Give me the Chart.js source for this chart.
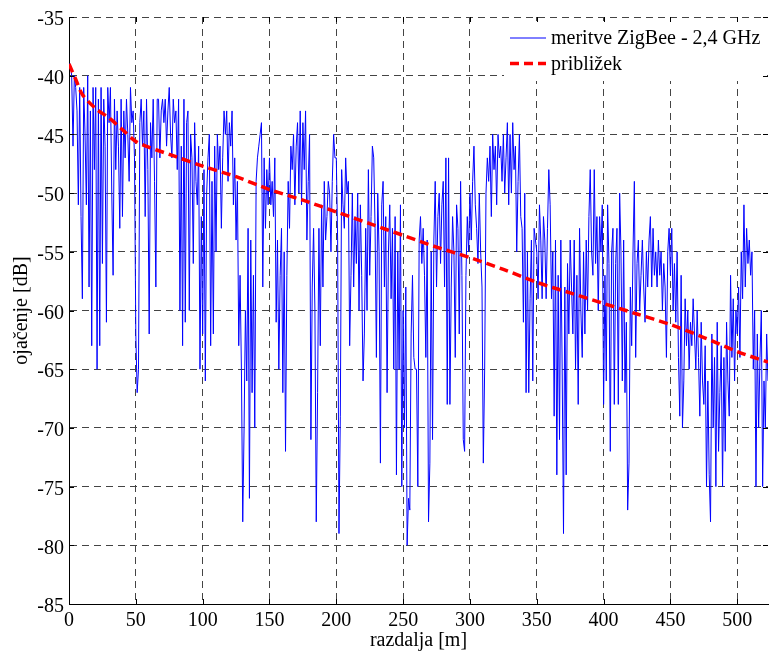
<!DOCTYPE html>
<html>
<head>
<meta charset="utf-8">
<script src="https://cdn.jsdelivr.net/npm/chart.js@4.4.0/dist/chart.umd.min.js"></script>
<style>
  html, body { margin: 0; padding: 0; background: #fff; }
  canvas { display: block; }
</style>
</head>
<body>
<canvas id="chart" width="770" height="657"></canvas>
<script>
// measured gain [dB], one sample per metre, starting at 0 m
const gain = [
  /*   0 */ -39, -39, -40, -46, -40, -41, -43, -51, -41, -52,
  /*  10 */ -59, -41, -45, -51, -40, -58, -43, -63, -41, -48,
  /*  20 */ -41, -65, -42, -63, -41, -56, -42, -46, -61, -41,
  /*  30 */ -44, -41, -50, -57, -42, -48, -43, -46, -53, -42,
  /*  40 */ -52, -43, -47, -42, -45, -49, -41, -44, -43, -47,
  /*  50 */ -62, -67, -65, -44, -42, -46, -43, -52, -42, -48,
  /*  60 */ -62, -44, -47, -42, -49, -58, -42, -42, -47, -43,
  /*  70 */ -42, -44, -42, -46, -43, -41, -45, -47, -42, -44,
  /*  80 */ -43, -48, -42, -60, -46, -63, -42, -61, -44, -43,
  /*  90 */ -60, -45, -47, -56, -44, -49, -51, -46, -65, -52,
  /* 100 */ -62, -48, -66, -50, -47, -45, -63, -49, -62, -46,
  /* 110 */ -55, -45, -48, -46, -53, -47, -43, -45, -43, -49,
  /* 120 */ -44, -46, -43, -51, -47, -54, -49, -63, -57, -65,
  /* 130 */ -78, -70, -60, -66, -53, -76, -54, -67, -57, -70,
  /* 140 */ -49, -47, -46, -45, -44, -58, -47, -53, -48, -51,
  /* 150 */ -47, -51, -49, -52, -47, -61, -54, -65, -57, -53,
  /* 160 */ -67, -55, -72, -57, -49, -53, -46, -48, -45, -51,
  /* 170 */ -46, -44, -50, -43, -51, -44, -48, -43, -54, -49,
  /* 180 */ -45, -71, -58, -53, -60, -78, -67, -53, -63, -51,
  /* 190 */ -58, -49, -54, -52, -49, -50, -55, -49, -45, -47,
  /* 200 */ -47, -54, -79, -69, -48, -51, -53, -47, -50, -49,
  /* 210 */ -63, -57, -50, -58, -52, -56, -50, -60, -51, -57,
  /* 220 */ -66, -62, -53, -60, -48, -57, -52, -46, -47, -53,
  /* 230 */ -64, -50, -55, -73, -51, -49, -58, -52, -67, -55,
  /* 240 */ -51, -59, -53, -65, -52, -74, -55, -65, -51, -75,
  /* 250 */ -60, -70, -58, -80, -76, -77, -62, -57, -64, -65,
  /* 260 */ -65, -75, -54, -52, -56, -53, -57, -64, -54, -78,
  /* 270 */ -73, -55, -71, -54, -49, -58, -52, -50, -56, -51,
  /* 280 */ -49, -58, -47, -68, -47, -68, -58, -52, -55, -64,
  /* 290 */ -51, -53, -62, -49, -57, -71, -72, -57, -52, -55,
  /* 300 */ -50, -54, -49, -46, -51, -53, -56, -50, -55, -58,
  /* 310 */ -73, -65, -50, -47, -49, -46, -52, -45, -48, -46,
  /* 320 */ -51, -45, -47, -46, -49, -45, -50, -47, -44, -51,
  /* 330 */ -45, -50, -44, -48, -46, -55, -49, -45, -52, -53,
  /* 340 */ -61, -50, -67, -55, -67, -59, -54, -66, -53, -54,
  /* 350 */ -55, -59, -51, -54, -59, -52, -54, -59, -53, -48,
  /* 360 */ -51, -59, -55, -69, -54, -74, -57, -71, -54, -65,
  /* 370 */ -79, -58, -74, -56, -62, -54, -58, -62, -54, -65,
  /* 380 */ -57, -68, -53, -60, -64, -55, -62, -54, -60, -52,
  /* 390 */ -48, -55, -57, -48, -56, -52, -60, -52, -55, -51,
  /* 400 */ -68, -57, -66, -51, -56, -72, -55, -53, -68, -56,
  /* 410 */ -53, -68, -50, -55, -66, -54, -67, -61, -77, -73,
  /* 420 */ -58, -63, -55, -49, -64, -56, -54, -60, -57, -54,
  /* 430 */ -58, -61, -55, -58, -54, -52, -58, -53, -57, -55,
  /* 440 */ -58, -54, -57, -55, -60, -56, -58, -64, -55, -53,
  /* 450 */ -57, -53, -60, -56, -61, -55, -64, -69, -57, -70,
  /* 460 */ -66, -59, -63, -60, -65, -61, -63, -59, -62, -65,
  /* 470 */ -60, -64, -69, -61, -66, -68, -63, -75, -66, -74,
  /* 480 */ -78, -62, -70, -64, -75, -61, -72, -67, -63, -75,
  /* 490 */ -64, -72, -61, -66, -69, -57, -64, -59, -66, -60,
  /* 500 */ -62, -58, -64, -55, -59, -51, -58, -53, -56, -54,
  /* 510 */ -57, -55, -65, -60, -75, -62, -70, -64, -60, -75,
  /* 520 */ -66, -70, -62, -66,
];
const distance = gain.map((_, i) => i); // metres

// fitted curve (približek)
const fitDist = [0, 5, 10, 20, 30, 40, 50, 60, 70, 80, 100, 125, 150, 175, 200,
  225, 250, 275, 300, 325, 350, 375, 400, 425, 450, 475, 500, 523];
const fitGain = [-39.0, -40.3, -41.6, -42.8, -43.6, -44.6, -45.6, -46.1, -46.5, -46.9,
  -47.7, -48.6, -49.7, -50.6, -51.6, -52.6, -53.6, -54.6, -55.5, -56.5,
  -57.6, -58.5, -59.4, -60.3, -61.2, -62.3, -63.5, -64.4];

const FONT = "'Liberation Serif', 'Times New Roman', serif";
Chart.defaults.font.family = FONT;
Chart.defaults.font.size = 20;
Chart.defaults.color = "#000";

// matlab look: inward ticks and legend box inside the axes
const matlabFrame = {
  id: "matlabFrame",
  afterDraw(chart) {
    const {
      ctx,
      chartArea: { left, right, top, bottom },
      scales: { x, y },
    } = chart;

    ctx.save();

    ctx.fillStyle = "#fff";
    ctx.fillRect(right - 264, top + 4, 263, 60);

    chart.data.datasets.forEach((ds, i) => {
      const ly = top + 21 + i * 25.5;
      ctx.beginPath();
      ctx.strokeStyle = ds.borderColor;
      ctx.lineWidth = ds.borderWidth;
      ctx.setLineDash(ds.borderDash || []);
      ctx.moveTo(right - 258, ly);
      ctx.lineTo(right - 222, ly);
      ctx.stroke();
      ctx.setLineDash([]);
      ctx.fillStyle = "#000";
      ctx.font = "20px " + FONT;
      ctx.textAlign = "left";
      ctx.textBaseline = "middle";
      ctx.fillText(ds.label, right - 217, ly + 1);
    });

    ctx.strokeStyle = "#000";
    ctx.lineWidth = 1;
    ctx.beginPath();
    x.ticks.forEach((t) => {
      const px = Math.round(x.getPixelForValue(t.value)) + 0.5;
      ctx.moveTo(px, bottom);
      ctx.lineTo(px, bottom - 5);
      ctx.moveTo(px, top);
      ctx.lineTo(px, top + 5);
    });
    y.ticks.forEach((t) => {
      const py = Math.round(y.getPixelForValue(t.value)) + 0.5;
      ctx.moveTo(left, py);
      ctx.lineTo(left + 5, py);
      ctx.moveTo(right, py);
      ctx.lineTo(right - 5, py);
    });
    ctx.stroke();

    ctx.restore();
  },
};

new Chart(document.getElementById("chart"), {
  type: "line",
  data: {
    datasets: [
      {
        label: "meritve ZigBee - 2,4 GHz",
        data: distance.map((d, i) => ({ x: d, y: gain[i] })),
        borderColor: "#0000ff",
        borderWidth: 1,
        pointRadius: 0,
        tension: 0,
        order: 1,
      },
      {
        label: "približek",
        data: fitDist.map((d, i) => ({ x: d, y: fitGain[i] })),
        borderColor: "#ff0000",
        borderWidth: 3.5,
        borderDash: [9, 5],
        pointRadius: 0,
        tension: 0.3,
        order: 0,
      },
    ],
  },
  options: {
    responsive: false,
    animation: false,
    devicePixelRatio: 1,
    layout: { padding: { left: 0, right: 2, top: 16, bottom: 0 } },
    plugins: {
      legend: { display: false },
      tooltip: { enabled: false },
    },
    scales: {
      x: {
        type: "linear",
        min: 0,
        max: 523,
        afterFit(scale) {
          scale.height = 53;
        },
        ticks: { stepSize: 50, includeBounds: false, padding: 5, maxRotation: 0 },
        grid: { color: "#444", lineWidth: 1, drawTicks: false },
        border: { display: true, color: "#000", width: 1, dash: [7, 5] },
        title: {
          display: true,
          text: "razdalja [m]",
          padding: { top: 0, bottom: 4 },
        },
      },
      y: {
        min: -85,
        max: -35,
        afterFit(scale) {
          scale.width = 69;
        },
        ticks: { stepSize: 5, padding: 5, labelOffset: 3 },
        grid: { color: "#444", lineWidth: 1, drawTicks: false },
        border: { display: true, color: "#000", width: 1, dash: [7, 5] },
        title: {
          display: true,
          text: "ojačenje [dB]",
          padding: { top: 10, bottom: 0 },
        },
      },
    },
  },
  plugins: [matlabFrame],
});
</script>
</body>
</html>
